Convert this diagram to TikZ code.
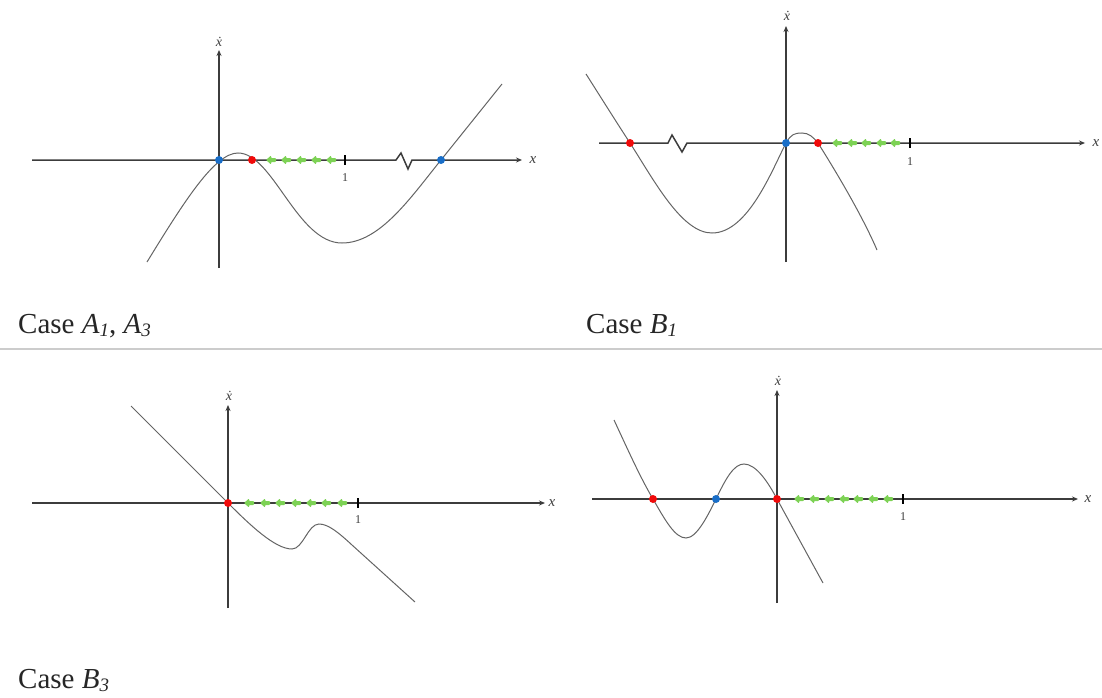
\documentclass[tikz,border=0pt]{standalone}
\usepackage{fontspec}
\setmainfont{Liberation Serif}
\usetikzlibrary{arrows.meta}
\definecolor{bluec}{RGB}{25,110,200}
\definecolor{redc}{RGB}{240,10,10}
\definecolor{greenc}{RGB}{125,210,85}
\definecolor{axisc}{RGB}{60,60,60}
\definecolor{curvec}{RGB}{100,100,100}
\tikzset{
  axisline/.style={draw=axisc, line width=1.5pt, -{Stealth[length=6pt,width=5pt]}},
  curveline/.style={draw=curvec, line width=1pt},
  bluept/.style={circle, fill=bluec, inner sep=0pt, minimum size=8pt},
  redpt/.style={circle, fill=redc, inner sep=0pt, minimum size=8pt},
  garrowfill/.style={fill=greenc, rounded corners=0.8pt},
  tickmark/.style={draw=black, line width=1.3pt},
  ticklabel/.style={font=\fontsize{12}{13}\selectfont, text=axisc},
  xlabel/.style={font=\fontsize{15}{16}\selectfont\itshape, text=axisc},
  ylabel/.style={font=\fontsize{14}{15}\selectfont\itshape, text=axisc},
  caption/.style={anchor=base west, inner sep=0pt, font=\fontsize{29}{32}\selectfont, text=black!85}
}
\newcommand{\capsub}[1]{\raisebox{-0.25ex}{\fontsize{19}{20}\selectfont\itshape #1}}
\newcommand{\garrowat}[2]{\fill[garrowfill] (#1-5,#2) -- (#1,#2-4.5) -- (#1,#2-2) -- (#1+5,#2-2) -- (#1+5,#2+2) -- (#1,#2+2) -- (#1,#2+4.5) -- cycle;}
\begin{document}
\begin{tikzpicture}[x=1pt,y=-1pt]
\useasboundingbox (0,0) rectangle (1102,698);
% separator
\draw[black!20, line width=1.3pt] (0,349) -- (1102,349);

% ===== Panel 1: Case A1, A3 =====
\coordinate (p1xs) at (32,160);
\coordinate (p1xe) at (522,160);
\coordinate (p1ys) at (219,268);
\coordinate (p1ye) at (219,50);
\draw[axisline] (p1xs) -- (396,160) -- (401,153) -- (408,169) -- (412,160) -- (p1xe);
\draw[axisline] (p1ys) -- (p1ye);
\node[xlabel] (p1xl) at (533,160) {x};
\node[ylabel] (p1yl) at (219,42) {\.x};
\draw[tickmark] (345,155) -- (345,165);
\node[ticklabel] (p1one) at (345,178) {1};
\draw[curveline] (147,262) .. controls (185,200) and (215,153) .. (238,153)
  .. controls (273,153) and (297,243) .. (342,243)
  .. controls (380,243) and (411,197) .. (441,160) -- (502,84);
\foreach \c in {271,286,301,316,331} {\garrowat{\c}{160}}
\node[bluept] (p1b1) at (219,160) {};
\node[redpt] (p1r1) at (252,160) {};
\node[bluept] (p1b2) at (441,160) {};
\node[caption] (cap1) at (18,333) {Case \textit{A}\capsub{1}, \textit{A}\capsub{3}};

% ===== Panel 2: Case B1 =====
\coordinate (p2xs) at (599,143);
\coordinate (p2xe) at (1085,143);
\coordinate (p2ys) at (786,262);
\coordinate (p2ye) at (786,26);
\draw[axisline] (p2xs) -- (668,143) -- (672,135) -- (682,152) -- (687,143) -- (p2xe);
\draw[axisline] (p2ys) -- (p2ye);
\node[xlabel] (p2xl) at (1096,143) {x};
\node[ylabel] (p2yl) at (787,16) {\.x};
\draw[tickmark] (910,138) -- (910,148);
\node[ticklabel] (p2one) at (910,162) {1};
\draw[curveline] (586,74) .. controls (600,96) and (615,120) .. (630,143)
  .. controls (655,182) and (682,233) .. (712,233)
  .. controls (748,233) and (772,170) .. (786,143)
  .. controls (791,134) and (795,133) .. (802,133)
  .. controls (809,133) and (813,137) .. (818,143)
  .. controls (835,170) and (862,215) .. (877,250);
\foreach \c in {837,852,866,881,895} {\garrowat{\c}{143}}
\node[redpt] (p2r1) at (630,143) {};
\node[bluept] (p2b1) at (786,143) {};
\node[redpt] (p2r2) at (818,143) {};
\node[caption] (cap2) at (586,333) {Case \textit{B}\capsub{1}};

% ===== Panel 3: Case B3 =====
\coordinate (p3xs) at (32,503);
\coordinate (p3xe) at (545,503);
\coordinate (p3ys) at (228,608);
\coordinate (p3ye) at (228,405);
\draw[axisline] (p3xs) -- (p3xe);
\draw[axisline] (p3ys) -- (p3ye);
\node[xlabel] (p3xl) at (552,503) {x};
\node[ylabel] (p3yl) at (229,396) {\.x};
\draw[tickmark] (358,498) -- (358,508);
\node[ticklabel] (p3one) at (358,520) {1};
\draw[curveline] (131,406) -- (228,503)
  .. controls (250,525) and (275,549) .. (292,549)
  .. controls (303,549) and (308,524) .. (319,524)
  .. controls (328,524) and (338,532) .. (352,545) -- (415,602);
\foreach \c in {249,265,280,296,311,326,342} {\garrowat{\c}{503}}
\node[redpt] (p3r1) at (228,503) {};
\node[caption] (cap3) at (18,688) {Case \textit{B}\capsub{3}};

% ===== Panel 4 =====
\coordinate (p4xs) at (592,499);
\coordinate (p4xe) at (1078,499);
\coordinate (p4ys) at (777,603);
\coordinate (p4ye) at (777,390);
\draw[axisline] (p4xs) -- (p4xe);
\draw[axisline] (p4ys) -- (p4ye);
\node[xlabel] (p4xl) at (1088,499) {x};
\node[ylabel] (p4yl) at (778,381) {\.x};
\draw[tickmark] (903,494) -- (903,504);
\node[ticklabel] (p4one) at (903,517) {1};
\draw[curveline] (614,420) .. controls (628,450) and (640,477) .. (653,499)
  .. controls (665,520) and (675,538) .. (686,538)
  .. controls (697,538) and (708,515) .. (716,499)
  .. controls (726,478) and (734,464) .. (744,464)
  .. controls (756,464) and (768,482) .. (777,499) -- (823,583);
\foreach \c in {799,814,829,844,858,873,888} {\garrowat{\c}{499}}
\node[redpt] (p4r1) at (653,499) {};
\node[bluept] (p4b1) at (716,499) {};
\node[redpt] (p4r2) at (777,499) {};
\end{tikzpicture}
\end{document}
